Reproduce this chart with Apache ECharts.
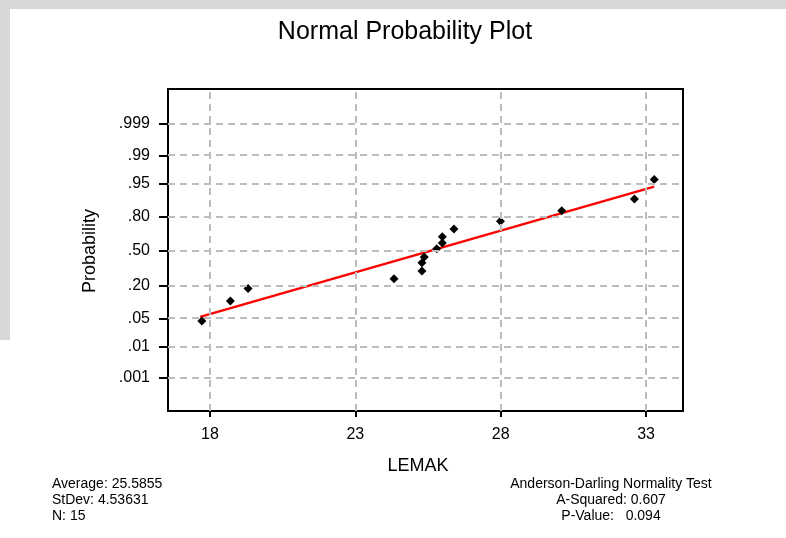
<!DOCTYPE html>
<html><head><meta charset="utf-8">
<script src="https://cdn.jsdelivr.net/npm/echarts@6/dist/echarts.min.js"></script>
<style>html,body{margin:0;padding:0;background:#fff}#c{width:786px;height:538px}</style>
</head><body><div id="c"></div>
<script>
// ---- data ----
const lemakValues = [17.72, 18.70, 19.31, 24.33, 25.29, 25.29, 25.37, 25.80, 25.99, 25.99, 26.39, 27.99, 30.10, 32.60, 33.28];
const probabilityPct = [4.4, 11.1, 17.9, 24.8, 31.2, 38.6, 44.0, 52.0, 57.5, 63.3, 70.2, 76.4, 83.6, 89.6, 95.9];
const fitLineX = [17.66, 33.28];
const fitLinePct = [5.4, 94.1];
const xTicks = [18, 23, 28, 33];
const yTickProbs = [0.001, 0.01, 0.05, 0.20, 0.50, 0.80, 0.95, 0.99, 0.999];
const yTickLabels = ['.001', '.01', '.05', '.20', '.50', '.80', '.95', '.99', '.999'];
const statsLeft = ['Average: 25.5855', 'StDev: 4.53631', 'N: 15'];
const statsRight = ['Anderson-Darling Normality Test', 'A-Squared: 0.607', 'P-Value:   0.094'];
const titleText = 'Normal Probability Plot';
const xName = 'LEMAK';
const yName = 'Probability';

// normal probability scale (inverse normal CDF, Acklam)
function invNorm(p) {
  const a = [-3.969683028665376e+01, 2.209460984245205e+02, -2.759285104469687e+02, 1.383577518672690e+02, -3.066479806614716e+01, 2.506628277459239e+00];
  const b = [-5.447609879822406e+01, 1.615858368580409e+02, -1.556989798598866e+02, 6.680131188771972e+01, -1.328068155288572e+01];
  const c = [-7.784894002430293e-03, -3.223964580411365e-01, -2.400758277161838e+00, -2.549732539343734e+00, 4.374664141464968e+00, 2.938163982698783e+00];
  const d = [7.784695709041462e-03, 3.224671290700398e-01, 2.445134137142996e+00, 3.754408661907416e+00];
  const pl = 0.02425, ph = 1 - pl;
  let q, r;
  if (p < pl) { q = Math.sqrt(-2 * Math.log(p)); return (((((c[0]*q+c[1])*q+c[2])*q+c[3])*q+c[4])*q+c[5]) / ((((d[0]*q+d[1])*q+d[2])*q+d[3])*q+1); }
  if (p <= ph) { q = p - 0.5; r = q*q; return (((((a[0]*r+a[1])*r+a[2])*r+a[3])*r+a[4])*r+a[5])*q / (((((b[0]*r+b[1])*r+b[2])*r+b[3])*r+b[4])*r+1); }
  q = Math.sqrt(-2 * Math.log(1 - p)); return -(((((c[0]*q+c[1])*q+c[2])*q+c[3])*q+c[4])*q+c[5]) / ((((d[0]*q+d[1])*q+d[2])*q+d[3])*q+1);
}
const yTickZ = yTickProbs.map(invNorm);
const points = lemakValues.map((x, i) => [x, invNorm(probabilityPct[i] / 100)]);
const fitLine = fitLineX.map((x, i) => [x, invNorm(fitLinePct[i] / 100)]);

const FONT = '"Liberation Sans", Arial, sans-serif';
const gridStyle = { color: '#bdbdbd', width: 2, type: [7, 5] };

const chart = echarts.init(document.getElementById('c'), null, { renderer: 'canvas' });
chart.setOption({
  animation: false,
  backgroundColor: '#ffffff',
  grid: { left: 168, top: 89, width: 515, height: 322, show: true, borderColor: '#000', borderWidth: 2, backgroundColor: 'transparent' },
  xAxis: {
    type: 'value', min: 16.555, max: 34.27,
    axisLine: { show: true, onZero: false, lineStyle: { color: '#000', width: 2 } },
    axisTick: { show: true, length: 6, customValues: xTicks, lineStyle: { color: '#000', width: 2 } },
    axisLabel: { customValues: xTicks, color: '#000', fontSize: 16, fontFamily: FONT, margin: 16 },
    splitLine: { show: false }
  },
  yAxis: {
    type: 'value', min: -3.9, max: 3.94,
    axisLine: { show: true, onZero: false, lineStyle: { color: '#000', width: 2 } },
    axisTick: { show: true, length: 9, customValues: yTickZ, lineStyle: { color: '#000', width: 2 } },
    axisLabel: {
      customValues: yTickZ, color: '#000', fontSize: 16, fontFamily: FONT, margin: 18,
      formatter: v => { let best = 0; yTickZ.forEach((z, i) => { if (Math.abs(z - v) < Math.abs(yTickZ[best] - v)) best = i; }); return yTickLabels[best]; }
    },
    splitLine: { show: false }
  },
  series: [
    {
      type: 'scatter', data: [], silent: true, z: 1,
      markLine: {
        silent: true, symbol: ['none', 'none'], label: { show: false },
        lineStyle: gridStyle, animation: false,
        data: xTicks.map(v => ({ xAxis: v })).concat(yTickZ.map(v => ({ yAxis: v })))
      }
    },
    {
      type: 'line', data: fitLine, showSymbol: false, symbol: 'none', z: 3,
      lineStyle: { color: '#ff0000', width: 2.5 }
    },
    {
      type: 'scatter', data: points, symbol: 'diamond', symbolSize: 9, z: 4,
      itemStyle: { color: '#000000', opacity: 1 }
    }
  ],
  graphic: [
    { type: 'rect', left: 0, top: 0, shape: { width: 786, height: 9 }, style: { fill: '#d7d7d7' }, silent: true },
    { type: 'rect', left: 0, top: 0, shape: { width: 10, height: 340 }, style: { fill: '#d7d7d7' }, silent: true },
    { type: 'text', x: 405, y: 32, style: { text: titleText, font: '25px ' + FONT, fill: '#000', textAlign: 'center', textVerticalAlign: 'middle' } },
    { type: 'text', x: 90, y: 251, rotation: Math.PI / 2, style: { text: yName, font: '18px ' + FONT, fill: '#000', textAlign: 'center', textVerticalAlign: 'middle' } },
    { type: 'text', x: 418, y: 466, style: { text: xName, font: '18px ' + FONT, fill: '#000', textAlign: 'center', textVerticalAlign: 'middle' } },
    { type: 'text', x: 52, y: 484, style: { text: statsLeft[0], font: '14px ' + FONT, fill: '#000', textAlign: 'left', textVerticalAlign: 'middle' } },
    { type: 'text', x: 52, y: 500, style: { text: statsLeft[1], font: '14px ' + FONT, fill: '#000', textAlign: 'left', textVerticalAlign: 'middle' } },
    { type: 'text', x: 52, y: 516, style: { text: statsLeft[2], font: '14px ' + FONT, fill: '#000', textAlign: 'left', textVerticalAlign: 'middle' } },
    { type: 'text', x: 611, y: 484, style: { text: statsRight[0], font: '14px ' + FONT, fill: '#000', textAlign: 'center', textVerticalAlign: 'middle' } },
    { type: 'text', x: 611, y: 500, style: { text: statsRight[1], font: '14px ' + FONT, fill: '#000', textAlign: 'center', textVerticalAlign: 'middle' } },
    { type: 'text', x: 611, y: 516, style: { text: statsRight[2], font: '14px ' + FONT, fill: '#000', textAlign: 'center', textVerticalAlign: 'middle' } }
  ]
});
</script>
</body></html>
